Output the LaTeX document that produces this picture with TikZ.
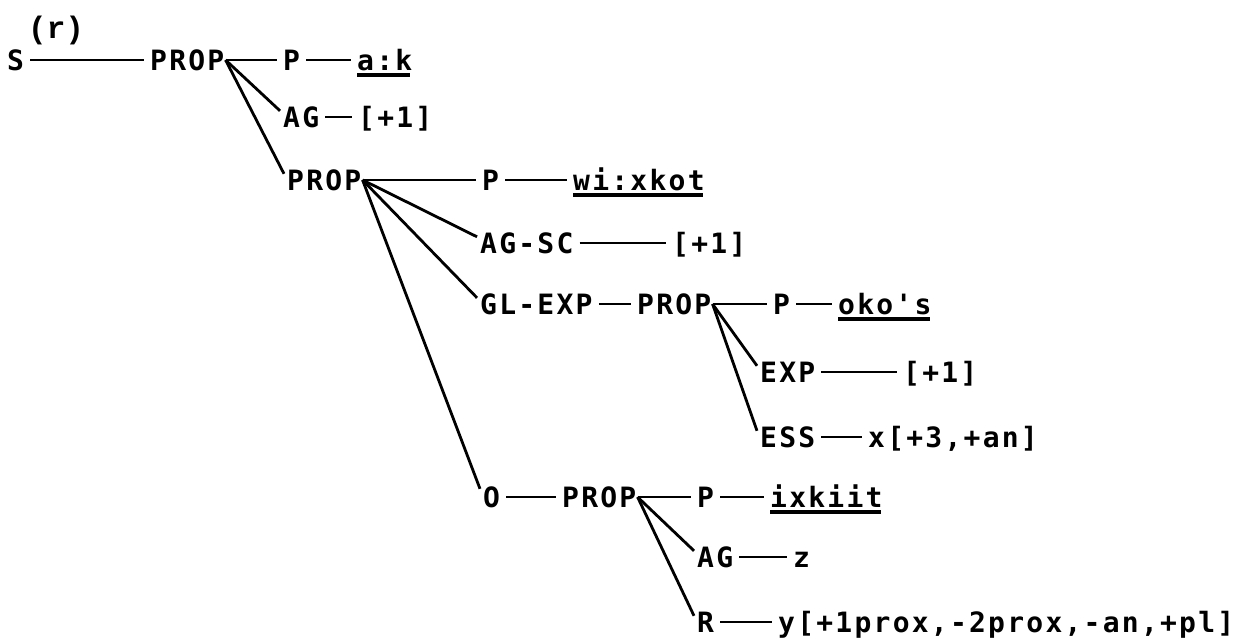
\documentclass[tikz,border=0pt]{standalone}
\usepackage{fontspec}
\newfontfamily\typfont[LetterSpace=8]{DejaVu Sans Mono Bold}
\newfontfamily\rfont{Liberation Mono Bold}
\begin{document}
\begin{tikzpicture}[x=1pt,y=-1pt,
  lab/.style={inner sep=0pt, anchor=base west, font=\fontsize{28}{28}\selectfont\typfont, text height=20pt, text depth=0pt},
  hl/.style={line width=2.6pt, shorten <=6pt, shorten >=6pt},
  dl/.style={line width=2.8pt},
  ul/.style={line width=3.6pt}]
\useasboundingbox (0,0) rectangle (1247,637);
% labels
\node[inner sep=0pt, anchor=base west, font=\fontsize{31}{31}\selectfont\rfont] (r) at (28,38) {(r)};
\node[lab] (s) at (7,70) {S};
\node[lab] (prop1) at (150,70) {PROP};
\node[lab] (p1) at (283,70) {P};
\node[lab] (ak) at (357,70) {a:k};
\node[lab] (ag1) at (283,127) {AG};
\node[lab] (f1) at (358,127) {[+1]};
\node[lab] (prop2) at (287,190) {PROP};
\node[lab] (p2) at (482,190) {P};
\node[lab] (wi) at (573,190) {wi:xkot};
\node[lab] (agsc) at (480,253) {AG-SC};
\node[lab] (f2) at (672,253) {[+1]};
\node[lab] (glexp) at (480,314) {GL-EXP};
\node[lab] (prop3) at (637,314) {PROP};
\node[lab] (p3) at (773,314) {P};
\node[lab] (oko) at (838,314) {oko's};
\node[lab] (exp) at (760,382) {EXP};
\node[lab] (f3) at (903,382) {[+1]};
\node[lab] (ess) at (760,447) {ESS};
\node[lab] (f4) at (868,447) {x[+3,+an]};
\node[lab] (o) at (483,507) {O};
\node[lab] (prop4) at (562,507) {PROP};
\node[lab] (p4) at (697,507) {P};
\node[lab] (ix) at (770,507) {ixkiit};
\node[lab] (ag4) at (697,567) {AG};
\node[lab] (z) at (793,567) {z};
\node[lab] (rr) at (697,632) {R};
\node[lab] (f5) at (778,632) {y[+1prox,-2prox,-an,+pl]};
% corners
\coordinate (c1) at ([xshift=1pt]prop1.east);
\coordinate (c2) at ([xshift=1pt]prop2.east);
\coordinate (c3) at ([xshift=1pt]prop3.east);
\coordinate (c4) at ([xshift=1pt]prop4.east);
% horizontal connectors
\draw[hl] (s) -- (prop1);
\draw[hl] (p1) -- (ak);
\draw[hl] (ag1) -- (f1);
\draw[hl] (p2) -- (wi);
\draw[hl] (agsc) -- (f2);
\draw[hl] (glexp) -- (prop3);
\draw[hl] (p3) -- (oko);
\draw[hl] (exp) -- (f3);
\draw[hl] (ess) -- (f4);
\draw[hl] (o) -- (prop4);
\draw[hl] (p4) -- (ix);
\draw[hl] (ag4) -- (z);
\draw[hl] (rr) -- (f5);
\draw[hl, shorten <=0pt] (c1) -- (p1);
\draw[hl, shorten <=0pt] (c2) -- (p2);
\draw[hl, shorten <=0pt] (c3) -- (p3);
\draw[hl, shorten <=0pt] (c4) -- (p4);
% diagonal connectors
\draw[dl] (c1) -- ([xshift=-3pt,yshift=-4pt]ag1.north west);
\draw[dl] (c1) -- ([xshift=-3pt,yshift=-4pt]prop2.north west);
\draw[dl] (c2) -- ([xshift=-3pt,yshift=-4pt]agsc.north west);
\draw[dl] (c2) -- ([xshift=-3pt,yshift=-4pt]glexp.north west);
\draw[dl] (c2) -- ([xshift=-3pt,yshift=-2pt]o.north west);
\draw[dl] (c3) -- ([xshift=-3pt,yshift=-4pt]exp.north west);
\draw[dl] (c3) -- ([xshift=-3pt,yshift=-4pt]ess.north west);
\draw[dl] (c4) -- ([xshift=-3pt,yshift=-4pt]ag4.north west);
\draw[dl] (c4) -- ([xshift=-3pt,yshift=-4pt]rr.north west);
% underlines
\draw[ul] ([yshift=-5pt]ak.south west) -- ([yshift=-5pt,xshift=-2pt]ak.south east);
\draw[ul] ([yshift=-5pt]wi.south west) -- ([yshift=-5pt,xshift=-2pt]wi.south east);
\draw[ul] ([yshift=-5pt]oko.south west) -- ([yshift=-5pt,xshift=-2pt]oko.south east);
\draw[ul] ([yshift=-5pt]ix.south west) -- ([yshift=-5pt,xshift=-2pt]ix.south east);
\end{tikzpicture}
\end{document}
